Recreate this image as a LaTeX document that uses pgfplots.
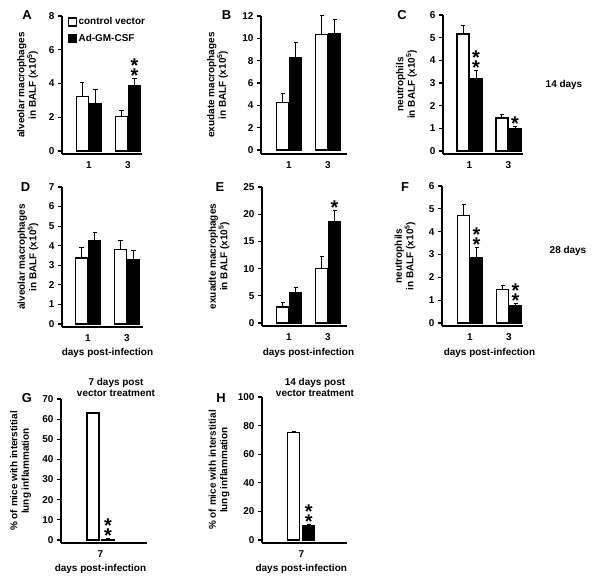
\documentclass[border=0pt]{standalone}
\usepackage{fontspec}
\setmainfont{Liberation Sans}
\usepackage{pgfplots}
\pgfplotsset{compat=1.18}

\newcommand{\lbl}{\bfseries\fontsize{10}{11.5}\selectfont}
\newcommand{\x}{(x10\textsuperscript{5})}

\pgfplotsset{
  panel/.style={
    scale only axis, anchor=south west, clip=false,
    axis x line*=bottom, axis y line*=left,
    ybar=1bp, bar width=12bp,
    tick align=outside,
    xtick={1,2}, xticklabels={1,3},
    major x tick style={draw=none},
    major y tick style={line width=1.1bp, black},
    major tick length=4bp,
    axis line style={line width=1.5bp, black},
    tick label style={font=\lbl},
    /pgf/number format/assume math mode=true,
    ylabel style={font=\lbl, align=center, anchor=center},
    xlabel style={font=\lbl, anchor=center},
    error bars/y dir=plus, error bars/y explicit,
    error bars/error bar style={line width=1bp, black},
    error bars/error mark options={line width=1bp, black, mark size=2bp, rotate=90},
  },
  wbar/.style={draw=black, fill=white, line width=1.25bp},
  bbar/.style={draw=black, fill=black, line width=1.25bp},
}
\tikzset{st/.style={font=\bfseries\fontsize{20}{20}\selectfont, inner sep=0pt, anchor=base}}
\newcommand{\onestar}[3]{\node[st, xshift=#3, yshift=-4bp] at (axis cs:#1,#2) {*};}
\newcommand{\twostar}[3]{\node[st, xshift=#3, yshift=-4bp] at (axis cs:#1,#2) {\raisebox{10bp}{*}\llap{*}};}

\begin{document}
\begin{tikzpicture}
\path[use as bounding box] (0,0) rectangle (600bp,584bp);

% ---------- A ----------
\begin{axis}[panel, at={(62bp,430bp)}, width=80bp, height=138bp,
  xmin=0.3077, xmax=2.359, ymin=-0.178, ymax=8, ytick={0,2,4,6,8},
  ylabel={alveolar macrophages\\in BALF \x},
  ylabel style={at={(axis description cs:-0.431,0.5)}},
  legend style={at={(axis description cs:0.07,1.0)}, anchor=north west, draw=none, fill=none,
    font=\lbl, row sep=5bp, inner sep=0pt, nodes={inner sep=1.5bp}},
  legend cell align=left,
  legend image code/.code={\draw[#1, line width=1.3bp] (0bp,-4bp) rectangle (8bp,4bp);},
]
\addplot[wbar] coordinates {(1,3.24) +- (0,0.79) (2,2.06) +- (0,0.35)};
\addplot[bbar] coordinates {(1,2.79) +- (0,0.85) (2,3.85) +- (0,0.44)};
\legend{control vector, Ad-GM-CSF}
\twostar{2}{4.29}{6.5bp}
\end{axis}

% ---------- B ----------
\begin{axis}[panel, at={(261bp,430bp)}, width=86bp, height=138bp,
  xmin=0.282, xmax=2.487, ymin=-0.36, ymax=12, ytick={0,2,4,6,8,10,12},
  ylabel={exudate macrophages\\in BALF \x},
  ylabel style={at={(axis description cs:-0.506,0.5)}},
]
\addplot[wbar] coordinates {(1,4.23) +- (0,0.83) (2,10.33) +- (0,1.67)};
\addplot[bbar] coordinates {(1,8.24) +- (0,1.43) (2,10.42) +- (0,1.28)};
\end{axis}

% ---------- C ----------
\begin{axis}[panel, at={(443bp,430bp)}, width=80bp, height=139bp,
  xmin=0.3205, xmax=2.372, ymin=-0.13, ymax=6, ytick={0,1,2,3,4,5,6},
  ylabel={neutrophils\\in BALF \x},
  ylabel style={at={(axis description cs:-0.456,0.5)}},
]
\addplot[wbar] coordinates {(1,5.16) +- (0,0.36) (2,1.46) +- (0,0.15)};
\addplot[bbar] coordinates {(1,3.19) +- (0,0.35) (2,0.97) +- (0,0.12)};
\twostar{1}{3.54}{6.5bp}
\onestar{2}{1.09}{6.5bp}
\end{axis}

% ---------- D ----------
\begin{axis}[panel, at={(62bp,257bp)}, width=81bp, height=140bp,
  xmin=0.3333, xmax=2.4103, ymin=-0.153, ymax=7, ytick={0,1,...,7},
  ylabel={alveolar macrophages\\in BALF \x},
  ylabel style={at={(axis description cs:-0.42,0.5)}},
  xlabel={days post-infection},
  xlabel style={at={(axis description cs:0.5617,-0.186)}},
]
\addplot[wbar] coordinates {(1,3.37) +- (0,0.56) (2,3.80) +- (0,0.46)};
\addplot[bbar] coordinates {(1,4.26) +- (0,0.44) (2,3.29) +- (0,0.47)};
\end{axis}

% ---------- E ----------
\begin{axis}[panel, at={(262bp,258bp)}, width=85bp, height=139bp,
  xmin=0.3077, xmax=2.487, ymin=-0.55, ymax=25, ytick={0,5,10,15,20,25},
  ylabel={exuadte macrophages\\in BALF \x},
  ylabel style={at={(axis description cs:-0.506,0.5)}},
  xlabel={days post-infection},
  xlabel style={at={(axis description cs:0.547,-0.194)}},
]
\addplot[wbar] coordinates {(1,2.94) +- (0,0.86) (2,9.99) +- (0,2.26)};
\addplot[bbar] coordinates {(1,5.51) +- (0,1.09) (2,18.57) +- (0,2.08)};
\onestar{2}{20.65}{6.5bp}
\end{axis}

% ---------- F ----------
\begin{axis}[panel, at={(442bp,258bp)}, width=81bp, height=140bp,
  xmin=0.282, xmax=2.359, ymin=-0.13, ymax=6, ytick={0,1,...,6},
  ylabel={neutrophils\\in BALF \x},
  ylabel style={at={(axis description cs:-0.457,0.5)}},
  xlabel={days post-infection},
  xlabel style={at={(axis description cs:0.586,-0.193)}},
]
\addplot[wbar] coordinates {(1,4.72) +- (0,0.46) (2,1.47) +- (0,0.18)};
\addplot[bbar] coordinates {(1,2.85) +- (0,0.45) (2,0.77) +- (0,0.08)};
\twostar{1}{3.30}{6.5bp}
\twostar{2}{0.85}{6.5bp}
\end{axis}

% ---------- G ----------
\begin{axis}[panel, ybar=3bp, at={(61bp,41bp)}, width=86bp, height=144bp,
  xmin=-0.0128, xmax=2.192, ymin=-1.5, ymax=70, ytick={0,10,...,70},
  xtick={1}, xticklabels={7},
  ylabel={\% of mice with interstitial\\lung inflammation},
  ylabel style={at={(axis description cs:-0.471,0.5)}},
  xlabel={days post-infection},
  xlabel style={at={(axis description cs:0.459,-0.181)}},
]
\addplot[wbar] coordinates {(1,63.0) +- (0,0.5)};
\addplot[bbar] coordinates {(1,0.3) +- (0,0.5)};
\twostar{1}{0.8}{7.5bp}
\end{axis}

% ---------- H ----------
\begin{axis}[panel, ybar=3bp, at={(262bp,41bp)}, width=85bp, height=146bp,
  xmin=-0.0077, xmax=2.172, ymin=-2.1, ymax=100, ytick={0,20,...,100},
  xtick={1}, xticklabels={7},
  ylabel={\% of mice with interstitial\\lung inflammation},
  ylabel style={at={(axis description cs:-0.506,0.5)}},
  xlabel={days post-infection},
  xlabel style={at={(axis description cs:0.462,-0.178)}},
]
\addplot[wbar] coordinates {(1,75.2) +- (0,0.7)};
\addplot[bbar] coordinates {(1,9.8) +- (0,0.7)};
\twostar{1}{10.5}{7.5bp}
\end{axis}

% ---------- panel letters and side texts ----------
\begin{scope}[every node/.style={font=\bfseries\fontsize{13}{13}\selectfont, inner sep=0pt}]
\node at (27bp,569bp) {A};
\node at (226.5bp,569bp) {B};
\node at (402bp,569bp) {C};
\node at (25.5bp,397bp) {D};
\node at (220bp,397bp) {E};
\node at (405bp,397bp) {F};
\node at (27bp,186bp) {G};
\node at (221bp,186bp) {H};
\end{scope}
\node[font=\lbl] at (564bp,499bp) {14 days};
\node[font=\lbl] at (568bp,333bp) {28 days};
\node[font=\lbl, align=center] at (116bp,196.5bp) {7 days post\\vector treatment};
\node[font=\lbl, align=center] at (315bp,196.5bp) {14 days post\\vector treatment};
\end{tikzpicture}
\end{document}
